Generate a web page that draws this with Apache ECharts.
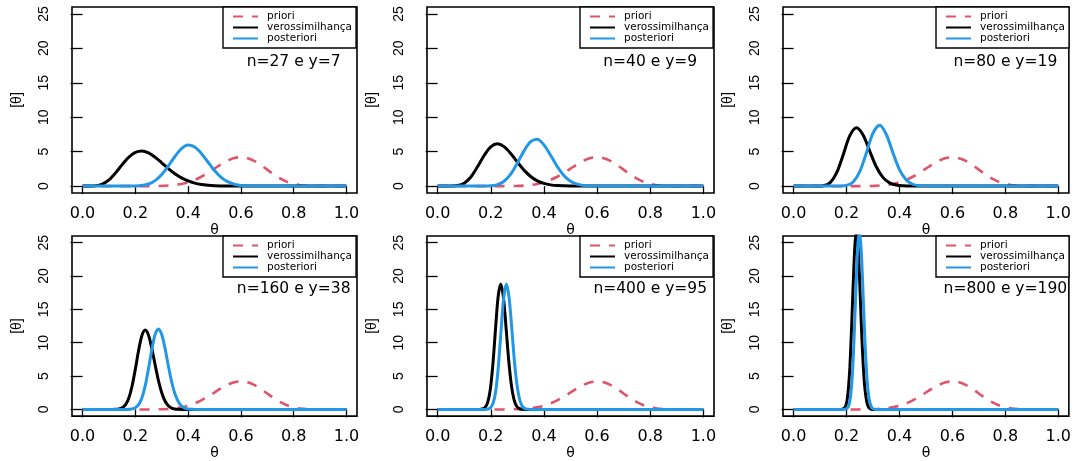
<!DOCTYPE html>
<html><head><meta charset="utf-8">
<script src="https://cdn.jsdelivr.net/npm/echarts@6/dist/echarts.min.js"></script>
<style>html,body{margin:0;padding:0;background:#fff}#c{width:1074px;height:461px}</style>
</head><body><div id="c"></div>
<script>
// ---- tick labels / legend / panel labels ----
const xTicks = [0, 0.2, 0.4, 0.6, 0.8, 1.0];
const yTicks = [0, 5, 10, 15, 20, 25];
const seriesNames = ['priori', 'verossimilhança', 'posteriori'];
const panelLabels = ['n=27 e y=7', 'n=40 e y=9', 'n=80 e y=19', 'n=160 e y=38', 'n=400 e y=95', 'n=800 e y=190'];

// ---- priori (same in every panel) ----
const priorTheta = [0, 0.2, 0.25, 0.3, 0.325, 0.35, 0.375, 0.4, 0.425, 0.45, 0.475, 0.5, 0.525, 0.55, 0.575, 0.6, 0.625, 0.65, 0.675, 0.7, 0.725, 0.75, 0.775, 0.8, 0.825, 0.85, 0.875, 0.9, 0.95, 1];
const priorDens  = [0, 0, 0.005, 0.035, 0.08, 0.17, 0.32, 0.55, 0.9, 1.36, 1.92, 2.54, 3.16, 3.7, 4.07, 4.2, 4.06, 3.67, 3.08, 2.39, 1.69, 1.09, 0.62, 0.31, 0.13, 0.04, 0.01, 0, 0, 0];

// ---- panel 1: n=27 ----
const lik1Theta = [0, 0.025, 0.05, 0.075, 0.1, 0.125, 0.15, 0.175, 0.2, 0.225, 0.25, 0.275, 0.3, 0.325, 0.35, 0.375, 0.4, 0.425, 0.45, 0.475, 0.5, 0.55, 0.6, 1];
const lik1Dens  = [0, 0.001, 0.04, 0.29, 0.91, 1.92, 3.12, 4.19, 4.9, 5.1, 4.82, 4.19, 3.38, 2.54, 1.79, 1.19, 0.75, 0.44, 0.24, 0.13, 0.06, 0.01, 0, 0];
const post1Theta = [0, 0.15, 0.2, 0.225, 0.25, 0.275, 0.3, 0.325, 0.35, 0.375, 0.4, 0.425, 0.45, 0.475, 0.5, 0.525, 0.55, 0.575, 0.6, 0.65, 0.7, 1];
const post1Dens  = [0, 0, 0.02, 0.09, 0.31, 0.8, 1.68, 2.92, 4.3, 5.43, 5.95, 5.67, 4.75, 3.5, 2.26, 1.28, 0.64, 0.28, 0.1, 0.01, 0, 0];

// ---- panel 2: n=40 ----
const lik2Theta = [0, 0.025, 0.05, 0.075, 0.1, 0.125, 0.15, 0.175, 0.2, 0.225, 0.25, 0.275, 0.3, 0.325, 0.35, 0.375, 0.4, 0.425, 0.45, 0.5, 0.55, 1];
const lik2Dens  = [0, 0, 0.004, 0.08, 0.43, 1.33, 2.8, 4.44, 5.69, 6.14, 5.73, 4.73, 3.49, 2.32, 1.4, 0.77, 0.39, 0.18, 0.08, 0.01, 0, 0];
const post2Theta = [0, 0.15, 0.2, 0.225, 0.25, 0.275, 0.3, 0.325, 0.35, 0.375, 0.4, 0.425, 0.45, 0.475, 0.5, 0.525, 0.55, 0.6, 0.65, 1];
const post2Dens  = [0, 0, 0.05, 0.22, 0.71, 1.74, 3.33, 5.12, 6.45, 6.8, 5.98, 4.47, 2.85, 1.55, 0.72, 0.28, 0.09, 0.01, 0, 0];

// ---- panel 3: n=80 ----
const lik3Theta = [0, 0.0875, 0.1125, 0.1375, 0.1625, 0.1875, 0.2125, 0.2375, 0.2625, 0.2875, 0.3125, 0.3375, 0.3625, 0.3875, 0.4125, 0.45, 1];
const lik3Dens  = [0, 0, 0.06, 0.48, 1.91, 4.56, 7.32, 8.46, 7.41, 5.1, 2.81, 1.27, 0.47, 0.15, 0.04, 0, 0];
const post3Theta = [0, 0.15, 0.175, 0.2, 0.225, 0.25, 0.275, 0.3, 0.325, 0.35, 0.375, 0.4, 0.425, 0.45, 0.475, 0.5, 0.55, 1];
const post3Dens  = [0, 0, 0.01, 0.1, 0.6, 2.09, 4.82, 7.69, 8.84, 7.53, 4.86, 2.4, 0.92, 0.27, 0.06, 0.01, 0, 0];

// ---- panel 4: n=160 ----
const lik4Theta = [0, 0.1125, 0.125, 0.1375, 0.15, 0.1625, 0.175, 0.1875, 0.2, 0.2125, 0.225, 0.2375, 0.25, 0.2625, 0.275, 0.2875, 0.3, 0.3125, 0.325, 0.3375, 0.35, 0.3625, 0.375, 0.3875, 1];
const lik4Dens  = [0, 0, 0.02, 0.07, 0.24, 0.68, 1.67, 3.48, 6.04, 8.87, 11.08, 11.9, 11.12, 9.14, 6.68, 4.34, 2.5, 1.26, 0.55, 0.21, 0.07, 0.02, 0.005, 0, 0];
const post4Theta = [0, 0.1625, 0.175, 0.1875, 0.2, 0.2125, 0.225, 0.2375, 0.25, 0.2625, 0.275, 0.2875, 0.3, 0.3125, 0.325, 0.3375, 0.35, 0.3625, 0.375, 0.3875, 0.4, 0.4125, 0.425, 1];
const post4Dens  = [0, 0, 0.02, 0.08, 0.25, 0.71, 1.74, 3.56, 6.13, 8.97, 11.24, 12.07, 11.24, 9.16, 6.55, 4.15, 2.34, 1.2, 0.52, 0.2, 0.06, 0.02, 0, 0];

// ---- panel 5: n=400 ----
const lik5Theta = [0, 0.1575, 0.1675, 0.1775, 0.1875, 0.1975, 0.2075, 0.2175, 0.2275, 0.2375, 0.2475, 0.2575, 0.2675, 0.2775, 0.2875, 0.2975, 0.3075, 0.3175, 0.3275, 1];
const lik5Dens  = [0, 0, 0.06, 0.26, 0.94, 2.79, 6.56, 11.86, 16.83, 18.8, 16.83, 12.28, 7.34, 3.65, 1.47, 0.47, 0.12, 0.02, 0, 0];
const post5Theta = [0, 0.1788, 0.1888, 0.1988, 0.2088, 0.2188, 0.2288, 0.2388, 0.2488, 0.2588, 0.2688, 0.2788, 0.2888, 0.2988, 0.3088, 0.3188, 0.3288, 0.3388, 0.3488, 1];
const post5Dens  = [0, 0, 0.06, 0.26, 0.95, 2.8, 6.58, 11.87, 16.8, 18.8, 16.8, 12.27, 7.31, 3.62, 1.45, 0.46, 0.12, 0.02, 0, 0];

// ---- panel 6: n=800 ----
const lik6Theta = [0, 0.1775, 0.1825, 0.1875, 0.1925, 0.1975, 0.2025, 0.2075, 0.2125, 0.2175, 0.2225, 0.2275, 0.2325, 0.2375, 0.2425, 0.2475, 0.2525, 0.2575, 0.2625, 0.2675, 0.2725, 0.2775, 0.2825, 0.2875, 0.2925, 0.2975, 1];
const lik6Dens  = [0, 0, 0.02, 0.07, 0.22, 0.6, 1.47, 3.28, 6.22, 10.68, 15.88, 21.1, 25.07, 26.5, 25.07, 21.4, 16.33, 11.19, 7.09, 3.98, 2.1, 0.97, 0.4, 0.14, 0.04, 0, 0];
const post6Theta = [0, 0.1885, 0.1935, 0.1985, 0.2035, 0.2085, 0.2135, 0.2185, 0.2235, 0.2285, 0.2335, 0.2385, 0.2435, 0.2485, 0.2535, 0.2585, 0.2635, 0.2685, 0.2735, 0.2785, 0.2835, 0.2885, 0.2935, 0.2985, 0.3035, 0.3085, 1];
const post6Dens  = [0, 0, 0.02, 0.07, 0.22, 0.6, 1.47, 3.28, 6.22, 10.68, 15.88, 21.1, 25.07, 26.5, 25.07, 21.4, 16.33, 11.19, 7.09, 3.98, 2.1, 0.97, 0.4, 0.14, 0.04, 0, 0];

const likTheta = [lik1Theta, lik2Theta, lik3Theta, lik4Theta, lik5Theta, lik6Theta];
const likDens = [lik1Dens, lik2Dens, lik3Dens, lik4Dens, lik5Dens, lik6Dens];
const postTheta = [post1Theta, post2Theta, post3Theta, post4Theta, post5Theta, post6Theta];
const postDens = [post1Dens, post2Dens, post3Dens, post4Dens, post5Dens, post6Dens];

// ---- layout ----
const grids = [
  {left: 72,  top: 7,   width: 285, height: 186},
  {left: 427, top: 7,   width: 287, height: 186},
  {left: 783, top: 7,   width: 287, height: 186},
  {left: 72,  top: 236, width: 285, height: 186},
  {left: 427, top: 236, width: 287, height: 186},
  {left: 783, top: 236, width: 287, height: 186}
];
const PINK = '#DF536B', BLUE = '#2297E6', BLACK = '#000000';
const FONT_H = 'DejaVu Sans', FONT_V = 'Liberation Sans';

const pairs = (xs, ys) => xs.map((x, i) => [x, ys[i]]);

const option = {
  animation: false,
  backgroundColor: '#ffffff',
  grid: grids.map(g => Object.assign({show: true, borderColor: '#000', borderWidth: 1.6, backgroundColor: 'transparent'}, g)),
  xAxis: grids.map((g, i) => ({
    gridIndex: i, type: 'value', min: -0.04, max: 1.04,
    axisLine: {show: false}, splitLine: {show: false},
    axisTick: {show: true, customValues: xTicks, length: 8, lineStyle: {color: '#000', width: 1.3}},
    axisLabel: {customValues: xTicks, formatter: v => Number(v).toFixed(1), margin: 13,
      fontSize: 16, fontFamily: FONT_H, color: '#000'},
    name: 'θ', nameLocation: 'middle', nameGap: 25,
    nameTextStyle: {fontSize: 14, fontFamily: FONT_H, color: '#000'}
  })),
  yAxis: grids.map((g, i) => ({
    gridIndex: i, type: 'value', min: -1, max: 26,
    axisLine: {show: false}, splitLine: {show: false},
    axisTick: {show: true, customValues: yTicks, length: 12, lineStyle: {color: '#000', width: 1.3}},
    axisLabel: {customValues: yTicks, rotate: 90, margin: 21, fontSize: 14, fontFamily: FONT_V, color: '#000'},
    name: '[θ]', nameLocation: 'middle', nameRotate: 90, nameGap: 48,
    nameTextStyle: {fontSize: 14, fontFamily: FONT_V, color: '#000'}
  })),
  legend: grids.map(g => ({
    data: seriesNames, orient: 'vertical',
    left: g.left + g.width - 134, top: g.top,
    itemWidth: 25, itemHeight: 9, itemGap: 0,
    padding: [4, 4, 4, 9],
    borderColor: '#000', borderWidth: 1.4, backgroundColor: '#fff',
    selectedMode: false,
    itemStyle: {opacity: 0},
    textStyle: {fontSize: 10.5, fontFamily: FONT_H, color: '#000', lineHeight: 9, padding: [0, 0, 0, 4]}
  })),
  series: []
};

grids.forEach((g, i) => {
  const common = {type: 'line', xAxisIndex: i, yAxisIndex: i, symbol: 'none', showSymbol: false, clip: true, smooth: 0.3};
  option.series.push(Object.assign({}, common, {name: seriesNames[0], data: pairs(priorTheta, priorDens),
    lineStyle: {color: PINK, width: 2.6, type: [10, 9]}, itemStyle: {color: PINK}}));
  option.series.push(Object.assign({}, common, {name: seriesNames[1], data: pairs(likTheta[i], likDens[i]),
    lineStyle: {color: BLACK, width: 3}, itemStyle: {color: BLACK}}));
  option.series.push(Object.assign({}, common, {name: seriesNames[2], data: pairs(postTheta[i], postDens[i]),
    lineStyle: {color: BLUE, width: 3}, itemStyle: {color: BLUE}}));
});

const chart = echarts.init(document.getElementById('c'), null, {renderer: 'canvas'});
chart.setOption(option);

// panel labels placed at data position (0.8, 18) of each panel
const graphics = panelLabels.map((t, i) => {
  const p = chart.convertToPixel({gridIndex: i}, [0.8, 18]);
  return {type: 'text', x: p[0], y: p[1], z: 100,
    style: {text: t, fontSize: 15.5, fontFamily: FONT_H, fill: '#000', align: 'center', verticalAlign: 'middle'}};
});
chart.setOption({graphic: graphics});
</script>
</body></html>
